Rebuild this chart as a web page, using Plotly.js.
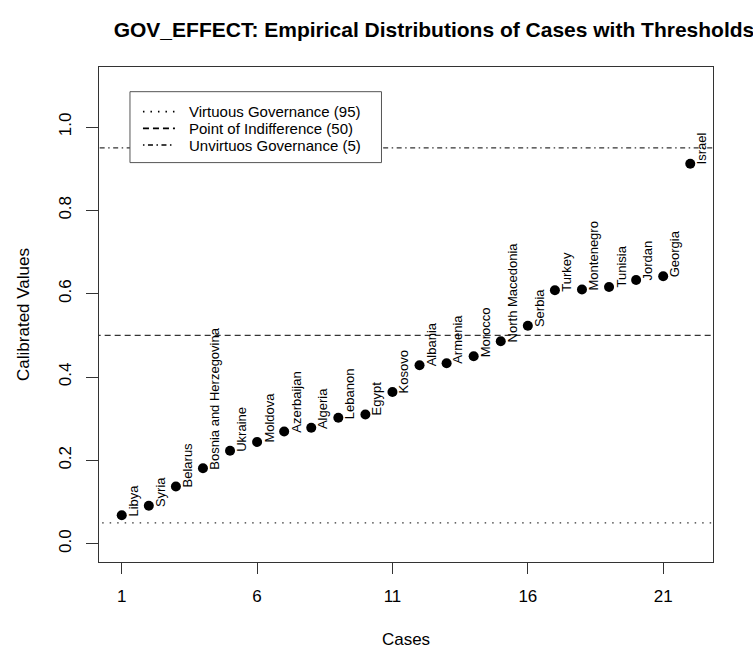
<!DOCTYPE html>
<html>
<head>
<meta charset="utf-8">
<script src="https://cdn.plot.ly/plotly-3.0.1.min.js"></script>
<style>html,body{margin:0;padding:0;background:#fff;}#chart{width:753px;height:651px;}</style>
</head>
<body>
<div id="chart"></div>
<script>
// ---- data ----
const countries = ["Libya","Syria","Belarus","Bosnia and Herzegovina","Ukraine","Moldova","Azerbaijan","Algeria",
  "Lebanon","Egypt","Kosovo","Albania","Armenia","Morocco","North Macedonia","Serbia",
  "Turkey","Montenegro","Tunisia","Jordan","Georgia","Israel"];
const calibrated = [0.068,0.091,0.137,0.181,0.223,0.244,0.269,0.278,
  0.302,0.310,0.364,0.428,0.433,0.450,0.486,0.523,
  0.608,0.610,0.616,0.633,0.642,0.912];
const thresholdNames = ["Virtuous Governance (95)","Point of Indifference (50)","Unvirtuos Governance (5)"];
const thresholdValues = [0.05, 0.5, 0.95];
const xTicks = [1, 6, 11, 16, 21];
const yTicks = [0, 0.2, 0.4, 0.6, 0.8, 1.0];

const cases = countries.map((_, i) => i + 1);
const dashes = ["1.5px,6px", "6px,4px", "1.5px,3.5px,5px,3.5px"];

const FONT = "Liberation Sans, Arial, Helvetica, sans-serif";
const n = cases.length;
const traces = [];
thresholdNames.forEach((nm, k) => {
  traces.push({
    x: [0, n + 1],
    y: [thresholdValues[k], thresholdValues[k]],
    mode: "lines",
    name: nm,
    line: {color: "#333", width: 1.2, dash: dashes[k]},
    hoverinfo: "skip",
    showlegend: false
  });
});
traces.push({
  x: cases, y: calibrated, mode: "markers", name: "cases",
  marker: {color: "#000", size: 10}, showlegend: false
});

const annotations = countries.map((c, i) => ({
  x: cases[i], y: calibrated[i], xref: "x", yref: "y",
  text: c, showarrow: false, textangle: -90,
  xanchor: "left", yanchor: "bottom", xshift: 2, yshift: -3,
  font: {family: FONT, size: 13, color: "#000"}
}));

// plot area in pixels
const W = 753, H = 651, L = 99, R = 713.5, T = 67, B = 562.5;
const px = v => (v - L) / (R - L);
const py = v => 1 - (v - T) / (B - T);

// legend (drawn with shapes + annotations to match the compact R legend)
const shapes = [{
  type: "rect", xref: "paper", yref: "paper",
  x0: px(130), x1: px(381.7), y0: py(162.7), y1: py(91.7),
  line: {color: "#555", width: 1}, fillcolor: "#fff", layer: "above"
}];
const rowY = [111.7, 128.4, 145.1];
thresholdNames.forEach((nm, k) => {
  shapes.push({type: "line", xref: "paper", yref: "paper",
    x0: px(143), x1: px(175), y0: py(rowY[k]), y1: py(rowY[k]),
    line: {color: "#000", width: 1.6, dash: dashes[k]}, layer: "above"});
  annotations.push({xref: "paper", yref: "paper", x: px(187), y: py(rowY[k]),
    xanchor: "left", yanchor: "middle", showarrow: false, text: nm,
    font: {family: FONT, size: 15, color: "#000"}});
});

const xmin = 1 - 0.04 * (n - 1), xmax = n + 0.04 * (n - 1);
const layout = {
  width: W, height: H,
  margin: {l: L, r: W - R, t: T, b: H - B},
  paper_bgcolor: "#fff", plot_bgcolor: "#fff",
  font: {family: FONT, color: "#000"},
  title: {text: "<b>GOV_EFFECT: Empirical Distributions of Cases with Thresholds</b>",
    font: {family: FONT, size: 21, color: "#000"},
    xref: "container", x: 434 / W, xanchor: "center", yref: "container", y: 1 - 30 / H, yanchor: "middle"},
  xaxis: {range: [xmin, xmax], tickvals: xTicks, ticktext: xTicks.map(String),
    showgrid: false, zeroline: false, showline: true, mirror: true, linecolor: "#333", linewidth: 1,
    ticks: "outside", ticklen: 11, tickcolor: "#333", tickwidth: 1,
    tickfont: {family: FONT, size: 17, color: "#000"}, ticklabelstandoff: 8,
    title: {text: "Cases", font: {family: FONT, size: 17, color: "#000"}, standoff: 27}},
  yaxis: {range: [-0.044, 1.144], tickvals: yTicks, ticktext: yTicks.map(v => v.toFixed(1)),
    tickangle: -90,
    showgrid: false, zeroline: false, showline: true, mirror: true, linecolor: "#333", linewidth: 1,
    ticks: "outside", ticklen: 12, tickcolor: "#333", tickwidth: 1,
    tickfont: {family: FONT, size: 17, color: "#000"}, ticklabelstandoff: 8,
    title: {text: "Calibrated Values", font: {family: FONT, size: 17, color: "#000"}, standoff: 22}},
  showlegend: false,
  shapes: shapes,
  annotations: annotations
};
Plotly.newPlot("chart", traces, layout, {staticPlot: true});
</script>
</body>
</html>
